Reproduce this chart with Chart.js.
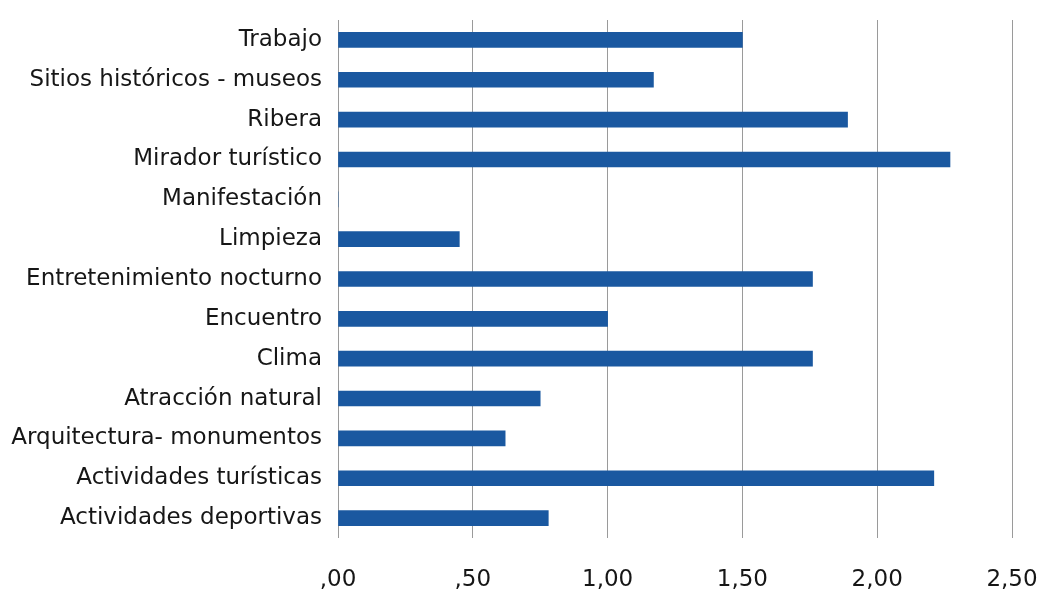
<!DOCTYPE html>
<html>
<head>
<meta charset="utf-8">
<script src="https://cdn.jsdelivr.net/npm/chart.js@4.4.0/dist/chart.umd.min.js"></script>
<style>
  html, body { margin: 0; padding: 0; background: #fff; }
  #wrap { width: 1043px; height: 595px; }
</style>
</head>
<body>
<div id="wrap"><canvas id="chart" width="1043" height="595"></canvas></div>
<script>
// Categories, top to bottom
const categories = [
  'Trabajo',
  'Sitios históricos - museos',
  'Ribera',
  'Mirador turístico',
  'Manifestación',
  'Limpieza',
  'Entretenimiento nocturno',
  'Encuentro',
  'Clima',
  'Atracción natural',
  'Arquitectura- monumentos',
  'Actividades turísticas',
  'Actividades deportivas'
];

const values = [1.50, 1.17, 1.89, 2.27, 0, 0.45, 1.76, 1.00, 1.76, 0.75, 0.62, 2.21, 0.78];

const tickValues = [0, 0.5, 1.0, 1.5, 2.0, 2.5];

// Spanish-style tick label: ",00", ",50", "1,00" ...
function formatTick(v) {
  let s = v.toFixed(2).replace('.', ',');
  if (s.startsWith('0,')) s = s.slice(1);
  return s;
}

const ctx = document.getElementById('chart').getContext('2d');
new Chart(ctx, {
  type: 'bar',
  data: {
    labels: categories,
    datasets: [{
      data: values,
      backgroundColor: '#1a58a0',
      barThickness: 15
    }]
  },
  options: {
    indexAxis: 'y',
    responsive: false,
    animation: false,
    layout: { padding: { top: 20, right: 31, bottom: 0, left: 0 } },
    plugins: {
      legend: { display: false },
      tooltip: { enabled: false }
    },
    scales: {
      x: {
        min: 0,
        max: 2.5,
        afterBuildTicks: (scale) => {
          scale.ticks = tickValues.map(v => ({ value: v }));
        },
        afterFit: (scale) => {
          scale.height = 57;
          scale.paddingLeft = 0;
          scale.paddingRight = 0;
        },
        border: { display: false },
        grid: {
          color: '#9a9a9a',
          lineWidth: 1,
          drawTicks: false
        },
        ticks: {
          color: '#161616',
          font: { family: 'DejaVu Sans', size: 23 },
          padding: 28,
          callback: (v) => formatTick(v)
        }
      },
      y: {
        afterFit: (scale) => {
          scale.width = 338;
          scale.paddingTop = 0;
          scale.paddingBottom = 0;
        },
        border: { display: false },
        grid: { display: false, drawTicks: false },
        ticks: {
          color: '#161616',
          font: { family: 'DejaVu Sans', size: 23 },
          padding: 16
        }
      }
    }
  }
});
</script>
</body>
</html>
